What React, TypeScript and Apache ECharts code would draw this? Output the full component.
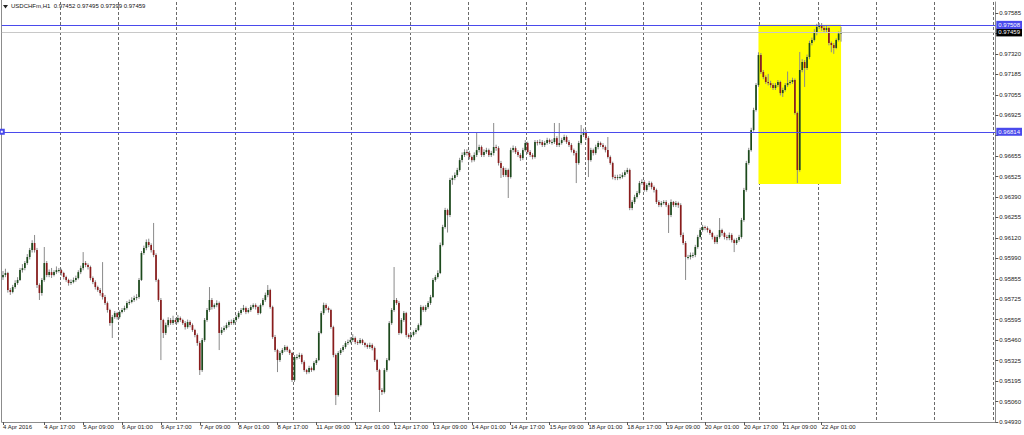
import React, { useEffect, useRef } from "react";
import * as echarts from "echarts";

const symbolName = "USDCHFm,H1";
const slotCount = 409;
const priceBase = 0.9;
const priceUnit = 100000;

// [open, close, low, high] in 1e-5 units above 0.90000, hourly bars from 4 Apr 2016 00:00
const candleRaw: number[][] = [
[5870,5884,5852,5910],[5884,5897,5870,5925],[5897,5787,5770,5905],[5787,5774,5755,5800],[5774,5806,5765,5820],
[5806,5832,5795,5850],[5832,5852,5820,5870],[5852,5916,5845,5930],[5916,5929,5900,5955],[5929,5962,5915,5975],
[5962,6001,5950,6020],[6001,6046,5985,6060],[6046,6092,6030,6110],[6092,6046,6030,6144],[6046,5819,5800,6060],
[5819,5767,5722,5830],[5767,5852,5750,5865],[5852,5962,5840,6066],[5962,5884,5870,5975],[5884,5903,5870,5920],
[5903,5884,5865,5930],[5884,5903,5875,5915],[5903,5916,5890,5940],[5916,5916,5900,5930],[5916,5897,5880,5925],
[5897,5871,5855,5905],[5871,5852,5840,5880],[5852,5832,5815,5860],[5832,5838,5820,5855],[5838,5852,5830,5868],
[5852,5864,5840,5880],[5864,5903,5855,5915],[5903,5929,5890,5945],[5929,5962,5915,6033],[5962,5949,5935,5975],
[5949,5936,5920,5960],[5936,5864,5850,5945],[5864,5838,5825,5875],[5838,5806,5790,5850],[5806,5787,5775,5815],
[5787,5767,5750,5800],[5767,5741,5725,5968],[5741,5702,5690,5755],[5702,5657,5640,5712],[5657,5572,5555,5665],
[5572,5611,5475,5625],[5611,5637,5600,5650],[5637,5611,5595,5645],[5611,5644,5600,5655],[5644,5657,5635,5670],
[5657,5670,5645,5685],[5670,5702,5660,5715],[5702,5709,5690,5725],[5709,5722,5700,5740],[5722,5735,5710,5750],
[5735,5741,5720,5760],[5741,5852,5730,5865],[5852,6027,5845,6040],[6027,6059,6015,6075],[6059,6098,6045,6115],
[6098,6079,6065,6120],[6079,6046,6030,6090],[6046,6014,6000,6222],[6014,5852,5840,6025],[5852,5722,5710,5860],
[5722,5592,5332,5735],[5592,5508,5475,5600],[5508,5559,5495,5575],[5559,5592,5545,5610],[5592,5572,5560,5605],
[5572,5592,5560,5620],[5592,5579,5565,5605],[5579,5605,5570,5625],[5605,5592,5580,5615],[5592,5572,5560,5600],
[5572,5546,5530,5585],[5546,5579,5535,5595],[5579,5559,5545,5590],[5559,5527,5515,5570],[5527,5495,5480,5535],
[5495,5443,5425,5505],[5443,5267,5235,5455],[5267,5462,5255,5475],[5462,5592,5450,5605],[5592,5657,5580,5670],
[5657,5722,5645,5806],[5722,5676,5660,5735],[5676,5689,5665,5700],[5689,5702,5675,5720],[5702,5508,5397,5712],
[5508,5527,5495,5545],[5527,5540,5515,5555],[5540,5559,5530,5575],[5559,5579,5545,5590],[5579,5572,5560,5595],
[5572,5592,5560,5605],[5592,5611,5580,5625],[5611,5637,5600,5650],[5637,5657,5625,5670],[5657,5670,5645,5690],
[5670,5644,5630,5680],[5644,5657,5635,5670],[5657,5676,5645,5690],[5676,5689,5665,5700],[5689,5676,5660,5700],
[5676,5637,5625,5685],[5637,5689,5630,5700],[5689,5722,5680,5735],[5722,5754,5710,5770],[5754,5787,5740,5819],
[5787,5676,5665,5795],[5676,5482,5470,5685],[5482,5397,5385,5495],[5397,5332,5254,5405],[5332,5378,5320,5390],
[5378,5397,5365,5410],[5397,5417,5385,5430],[5417,5397,5385,5425],[5397,5378,5365,5405],[5378,5202,5190,5385],
[5202,5352,5190,5365],[5352,5352,5335,5370],[5352,5365,5340,5380],[5365,5319,5305,5375],[5319,5267,5255,5330],
[5267,5254,5240,5275],[5254,5280,5245,5295],[5280,5267,5255,5290],[5267,5313,5260,5325],[5313,5332,5300,5345],
[5332,5508,5325,5520],[5508,5637,5500,5650],[5637,5689,5625,5705],[5689,5670,5655,5700],[5670,5657,5640,5680],
[5657,5546,5535,5665],[5546,5365,5350,5555],[5365,5105,5040,5375],[5105,5378,5095,5390],[5378,5397,5365,5410],
[5397,5417,5385,5430],[5417,5443,5405,5455],[5443,5449,5430,5465],[5449,5462,5440,5480],[5462,5475,5450,5500],
[5475,5449,5435,5485],[5449,5443,5430,5460],[5443,5462,5435,5475],[5462,5443,5430,5470],[5443,5430,5415,5450],
[5430,5417,5405,5440],[5417,5430,5405,5445],[5430,5410,5395,5440],[5410,5332,5320,5420],[5332,5267,5255,5340],
[5267,5138,4995,5275],[5138,5125,5105,5150],[5125,5267,5115,5280],[5267,5332,5255,5345],[5332,5572,5325,5585],
[5572,5657,5560,5670],[5657,5722,5645,5936],[5722,5702,5690,5735],[5702,5508,5495,5715],[5508,5592,5500,5605],
[5592,5637,5580,5650],[5637,5495,5480,5645],[5495,5482,5470,5505],[5482,5495,5475,5510],[5495,5514,5485,5525],
[5514,5527,5500,5540],[5527,5559,5520,5570],[5559,5676,5550,5690],[5676,5657,5645,5685],[5657,5676,5645,5690],
[5676,5702,5665,5715],[5702,5741,5690,5755],[5741,5852,5735,5865],[5852,5871,5840,5885],[5871,5897,5860,5915],
[5897,6079,5890,6095],[6079,6196,6070,6210],[6196,6306,6185,6320],[6306,6273,6160,6315],[6273,6501,6260,6515],
[6501,6514,6470,6530],[6514,6533,6500,6550],[6533,6566,6520,6580],[6566,6630,6555,6645],[6630,6663,6615,6680],
[6663,6682,6650,6700],[6682,6676,6660,6700],[6676,6650,6635,6690],[6650,6630,6615,6660],[6630,6663,6620,6680],
[6663,6695,6650,6806],[6695,6715,6680,6730],[6715,6663,6650,6725],[6663,6682,6650,6700],[6682,6695,6670,6710],
[6695,6663,6650,6705],[6663,6676,6650,6690],[6676,6715,6660,6871],[6715,6708,6690,6730],[6708,6611,6595,6720],
[6611,6579,6514,6625],[6579,6533,6520,6590],[6533,6566,6520,6580],[6566,6520,6384,6575],[6520,6695,6510,6710],
[6695,6708,6680,6725],[6708,6682,6670,6720],[6682,6663,6650,6695],[6663,6643,6625,6675],[6643,6695,6630,6710],
[6695,6741,6685,6760],[6741,6682,6670,6750],[6682,6663,6650,6695],[6663,6650,6635,6675],[6650,6747,6640,6760],
[6747,6741,6725,6760],[6741,6747,6730,6765],[6747,6728,6715,6760],[6728,6741,6715,6755],[6741,6760,6730,6775],
[6760,6747,6735,6770],[6747,6747,6730,6765],[6747,6773,6735,6871],[6773,6728,6715,6785],[6728,6741,6715,6871],
[6741,6760,6730,6775],[6760,6780,6750,6795],[6780,6747,6735,6790],[6747,6728,6715,6760],[6728,6695,6680,6740],
[6695,6676,6660,6705],[6676,6611,6481,6690],[6611,6741,6600,6755],[6741,6793,6730,6858],[6793,6812,6780,6835],
[6812,6773,6760,6825],[6773,6630,6520,6785],[6630,6695,6620,6710],[6695,6676,6660,6705],[6676,6715,6665,6730],
[6715,6741,6700,6755],[6741,6728,6715,6750],[6728,6715,6700,6740],[6715,6695,6680,6725],[6695,6650,6640,6780],
[6650,6611,6600,6660],[6611,6520,6505,6620],[6520,6514,6500,6535],[6514,6520,6500,6535],[6520,6520,6505,6540],
[6520,6533,6510,6550],[6533,6552,6520,6565],[6552,6566,6540,6580],[6566,6319,6305,6575],[6319,6358,6305,6370],
[6358,6390,6345,6405],[6390,6416,6380,6430],[6416,6481,6405,6495],[6481,6488,6470,6505],[6488,6436,6425,6500],
[6436,6468,6425,6480],[6468,6481,6455,6495],[6481,6455,6440,6490],[6455,6436,6420,6465],[6436,6358,6345,6445],
[6358,6338,6325,6370],[6338,6351,6325,6365],[6351,6358,6340,6370],[6358,6338,6325,6370],[6338,6273,6157,6350],
[6273,6358,6260,6375],[6358,6338,6325,6365],[6338,6351,6325,6365],[6351,6338,6320,6360],[6338,6144,6130,6350],
[6144,6092,6080,6160],[6092,6001,5852,6105],[6001,6001,5985,6015],[6001,6014,5985,6030],[6014,6014,5995,6030],
[6014,6066,6000,6080],[6066,6131,6055,6145],[6131,6176,6120,6190],[6176,6196,6165,6210],[6196,6189,6175,6205],
[6189,6176,6160,6200],[6176,6157,6145,6185],[6157,6131,6115,6165],[6131,6098,6085,6140],[6098,6131,6085,6145],
[6131,6176,6120,6254],[6176,6157,6140,6185],[6157,6131,6115,6165],[6131,6124,6110,6145],[6124,6144,6110,6160],
[6144,6111,6095,6155],[6111,6092,6033,6120],[6092,6111,6080,6125],[6111,6131,6100,6145],[6131,6241,6120,6255],
[6241,6436,6230,6450],[6436,6611,6425,6625],[6611,6695,6600,6710],[6695,6825,6685,6840],[6825,6955,6815,6970],
[6955,7117,6945,7130],[7117,7312,7105,7330],[7312,7202,7190,7325],[7202,7169,7155,7215],[7169,7137,7125,7180],
[7137,7130,7115,7190],[7130,7117,7100,7145],[7117,7098,7085,7130],[7098,7117,7085,7130],[7117,7137,7105,7150],
[7137,7065,7050,7145],[7065,7085,7040,7100],[7085,7117,7075,7130],[7117,7130,7105,7205],[7130,7137,7120,7150],
[7137,7150,7125,7165],[7150,6936,6925,7160],[6936,6566,6481,6945],[6566,7215,6555,7332],[7215,7267,7200,7285],
[7267,7228,7105,7280],[7228,7299,7215,7315],[7299,7390,7285,7405],[7390,7410,7375,7425],[7410,7455,7400,7480],
[7455,7494,7440,7515],[7494,7507,7480,7520],[7507,7487,7470,7520],[7487,7475,7455,7500],[7475,7487,7460,7500],
[7487,7390,7375,7495],[7390,7377,7330,7400],[7377,7358,7320,7390],[7358,7410,7350,7420],[7410,7452,7400,7465],
[7452,7459,7399,7495],
];

const yTickLabels = [
  "0.94930", "0.95060", "0.95195", "0.95325", "0.95460", "0.95595", "0.95725",
  "0.95855", "0.95990", "0.96120", "0.96255", "0.96390", "0.96525", "0.96655",
  "0.96790", "0.96925", "0.97055", "0.97185", "0.97320", "0.97455", "0.97585",
];
const yMin = 0.9493;
const yStep = 0.0013275;
const yMax = 0.976564;

const xTickBars = [0, 17, 33, 49, 65, 81, 97, 113, 129, 145, 161, 177, 193, 209, 225, 241, 257, 273, 289, 305, 321, 337];
const xTickLabels = [
  "4 Apr 2016", "4 Apr 17:00", "5 Apr 09:00", "6 Apr 01:00", "6 Apr 17:00", "7 Apr 09:00",
  "8 Apr 01:00", "8 Apr 17:00", "11 Apr 09:00", "12 Apr 01:00", "12 Apr 17:00", "13 Apr 09:00",
  "14 Apr 01:00", "14 Apr 17:00", "15 Apr 09:00", "18 Apr 01:00", "18 Apr 17:00", "19 Apr 09:00",
  "20 Apr 01:00", "20 Apr 17:00", "21 Apr 09:00", "22 Apr 01:00",
];
const daySeparatorBars = [24, 48, 72, 96, 120, 144, 168, 192, 216, 240, 264, 288, 312, 336, 360, 384, 408];

const resistanceLevel = 0.97508;
const supportLevel = 0.96814;
const bidLevel = 0.97459;
const zoneStartBar = 311;
const zoneEndBar = 345;
const zoneTop = 0.97508;
const zoneBottom = 0.96475;

const FONT = "'Liberation Sans', Arial, sans-serif";
const BULL = "#1c4a1c";
const BEAR = "#8a1c1c";
const WICK = "#8a8a8a";
const LINE_BLUE = "#4a4aec";

export default function App() {
  const ref = useRef<HTMLDivElement>(null);

  useEffect(() => {
    if (!ref.current) return;
    const chart = echarts.init(ref.current, null, { renderer: "svg" });

    const toPrice = (v: number) => +(priceBase + v / priceUnit).toFixed(5);
    const candles = candleRaw.map((r) => r.map(toPrice));
    const seriesData = candles.map((c, i) => [i, c[0], c[1], c[2], c[3]]);
    const categories = Array.from({ length: slotCount }, (_, i) => String(i));
    const xTickSet = new Set(xTickBars);
    const xLabelMap = new Map<number, string>();
    xTickBars.forEach((b, k) => xLabelMap.set(b, xTickLabels[k]));
    const daySet = new Set(daySeparatorBars);
    const last = candles[candles.length - 1];
    const title = `${symbolName}  ${last[0].toFixed(5)} ${last[3].toFixed(5)} ${last[2].toFixed(5)} ${last[1].toFixed(5)}`;
    const tagLevels = [resistanceLevel, supportLevel, bidLevel];
    const hiddenBehindTag = (v: number) => tagLevels.some((t) => Math.abs(t - v) < 0.0004);

    const levelSeries = (level: number, lineColor: string, tagColor: string, startSymbol: string, z: number) => ({
      type: "line",
      data: [],
      silent: true,
      z,
      markLine: {
        silent: true,
        symbol: [startSymbol, "none"],
        symbolSize: 4,
        precision: 5,
        animation: false,
        lineStyle: { color: lineColor, width: 1, type: "solid", opacity: 1 },
        label: {
          show: true,
          position: "end",
          distance: 1,
          formatter: (p: any) => Number(p.value).toFixed(5),
          backgroundColor: tagColor,
          color: "#ffffff",
          fontSize: 6,
          fontFamily: FONT,
          padding: [1, 2, 1, 2],
        },
        data: [{ yAxis: level }],
      },
    });

    chart.setOption({
      animation: false,
      backgroundColor: "#ffffff",
      grid: { left: 0, right: 26, top: 2, bottom: 13, containLabel: false },
      xAxis: {
        type: "category",
        data: categories,
        boundaryGap: true,
        axisLine: { show: true, lineStyle: { color: "#8c8c8c", width: 1 } },
        axisTick: {
          show: true,
          alignWithLabel: true,
          length: 3,
          interval: (i: number) => xTickSet.has(i),
          lineStyle: { color: "#555555" },
        },
        axisLabel: {
          show: true,
          interval: (i: number) => xTickSet.has(i),
          formatter: (_v: string, i: number) => xLabelMap.get(i) ?? "",
          align: "left",
          fontSize: 6,
          fontFamily: FONT,
          color: "#222222",
          margin: 2,
        },
        splitLine: {
          show: true,
          interval: (i: number) => daySet.has(i),
          lineStyle: { color: "#6a6a6a", width: 1, type: [3, 2] },
        },
      },
      yAxis: {
        type: "value",
        position: "right",
        min: yMin,
        max: yMax,
        interval: yStep,
        axisLine: { show: true, lineStyle: { color: "#8c8c8c", width: 1 } },
        axisTick: { show: true, length: 3, lineStyle: { color: "#555555" } },
        axisLabel: {
          show: true,
          showMaxLabel: false,
          fontSize: 6,
          fontFamily: FONT,
          color: "#222222",
          margin: 4,
          formatter: (v: number) => (hiddenBehindTag(v) ? "" : yTickLabels[Math.round((v - yMin) / yStep)] ?? ""),
        },
        splitLine: { show: false },
      },
      graphic: [
        { type: "line", shape: { x1: 1.5, y1: 0, x2: 1.5, y2: 422 }, style: { stroke: "#8c8c8c", lineWidth: 1 }, silent: true },
        { type: "polygon", shape: { points: [[3, 5], [8, 5], [5.5, 8.5]] }, style: { fill: "#222222" }, silent: true },
        {
          type: "text",
          left: 11,
          top: 3,
          style: { text: title, fontSize: 6, fontFamily: FONT, fill: "#111111" },
          silent: true,
        },
      ],
      series: [
        {
          type: "line",
          data: [],
          silent: true,
          z: 1,
          markArea: {
            silent: true,
            itemStyle: { color: "#ffff00", opacity: 1, borderWidth: 0 },
            data: [[
              { xAxis: String(zoneStartBar), yAxis: zoneTop },
              { xAxis: String(zoneEndBar), yAxis: zoneBottom },
            ]],
          },
        },
        levelSeries(bidLevel, "#c8c8c8", "#000000", "none", 3),
        levelSeries(resistanceLevel, LINE_BLUE, LINE_BLUE, "none", 4),
        levelSeries(supportLevel, LINE_BLUE, LINE_BLUE, "emptyRect", 4),
        {
          type: "custom",
          z: 2,
          data: seriesData,
          encode: { x: 0, y: [1, 2, 3, 4] },
          renderItem: (_params: any, api: any) => {
            const i = api.value(0);
            const o = api.value(1);
            const c = api.value(2);
            const l = api.value(3);
            const h = api.value(4);
            const pO = api.coord([i, o]);
            const pC = api.coord([i, c]);
            const pL = api.coord([i, l]);
            const pH = api.coord([i, h]);
            const bw = api.size([1, 0])[0] * 0.7;
            const x = pO[0];
            const top = Math.min(pO[1], pC[1]);
            const bottom = Math.max(pO[1], pC[1]);
            return {
              type: "group",
              children: [
                { type: "line", shape: { x1: x, y1: pH[1], x2: x, y2: pL[1] }, style: { stroke: WICK, lineWidth: 1 } },
                {
                  type: "rect",
                  shape: { x: x - bw / 2, y: top, width: bw, height: Math.max(bottom - top, 1) },
                  style: { fill: c >= o ? BULL : BEAR },
                },
              ],
            };
          },
        },
      ],
    });

    return () => chart.dispose();
  }, []);

  return (
    <div
      ref={ref}
      style={{ position: "fixed", left: 0, top: 0, width: 1024, height: 435, background: "#ffffff" }}
    />
  );
}
